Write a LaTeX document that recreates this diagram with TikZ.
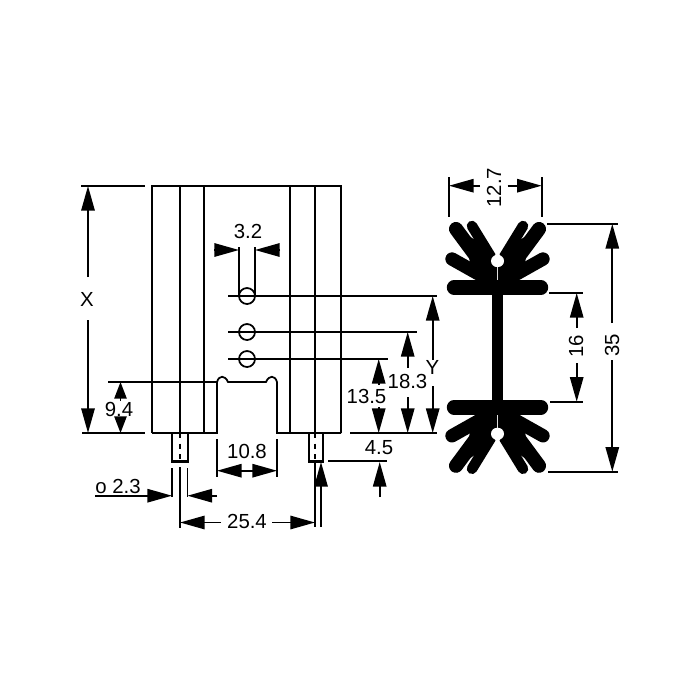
\documentclass[tikz,border=0pt]{standalone}
\usepackage{fontspec}
\setmainfont{Liberation Sans}
\usetikzlibrary{arrows.meta}

\tikzset{
  thinline/.style={line width=1pt},
  thickline/.style={line width=1.7pt},
  dimarrow/.style={line width=1pt,-{Triangle[length=14pt,width=7.6pt]}},
  shortarrow/.style={line width=1pt,-{Triangle[length=9.5pt,width=7pt]}},
  dimlabel/.style={font=\fontsize{11.6}{13}\selectfont,inner sep=0pt},
  fin/.style={line width=#1,line cap=round}
}

\newcommand{\finhalf}{
  \fill (466,234) -- (492,251) -- (497,262) -- (497,294) -- (478,294) -- (478,277) -- (470,264) -- cycle;
  \draw[fin=8pt] (456,229) -- (490,275);
  \draw[fin=6pt] (472,226) -- (491,257);
  \draw[fin=7.6pt] (452,259) -- (484,277);
  \draw[fin=8.2pt] (454,287.5) -- (497,287.5);
  \fill[white] (497,261) circle (6) ;
  \fill[white] (497,252) -- (493,259) -- (497,262) -- cycle;
}

\begin{document}
\begin{tikzpicture}[x=0.02cm,y=-0.02cm]
\useasboundingbox (0,0) rectangle (700,700);

% front view
\draw[thinline] (152,433) -- (152,186) -- (341,186) -- (341,433);
\draw[thinline] (180,186) -- (180,433);
\draw[thickline] (204,186) -- (204,433);
\draw[thinline] (290,186) -- (290,433);
\draw[thickline] (315,186) -- (315,433);
\draw[thinline] (152,433) -- (217,433) -- (217,382)
  .. controls (219,375) and (225,375) .. (228,382) -- (266,382)
  .. controls (269,375) and (275,375) .. (277,382) -- (277,433) -- (341,433);

% pins
\draw[thickline] (172,433) -- (172,461) -- (188,461) -- (188,433);
\draw[thinline,dashed] (180,433) -- (180,461);
\draw[thickline] (309,433) -- (309,461) -- (323,461) -- (323,433);
\draw[thinline,dashed] (315,433) -- (315,461);

% holes
\draw[thinline] (247,296) circle (8);
\draw[thinline] (247,332) circle (8);
\draw[thinline] (247,359) circle (8);
\draw[thinline] (239,247) -- (239,296);
\draw[thinline] (255,247) -- (255,296);

% X
\draw[thinline] (81,186) -- (145,186);
\draw[thinline] (82,433) -- (145,433);
\draw[dimarrow] (88,277) -- (88,186);
\draw[dimarrow] (88,320) -- (88,433);
\node[dimlabel] (labelx) at (87,299) {X};

% 9.4
\draw[thinline] (108,382) -- (217,382);
\draw[shortarrow] (120.5,401) -- (120.5,382);
\draw[shortarrow] (120.5,417) -- (120.5,433);
\node[dimlabel] (labelnine) at (119,409) {9.4};

% 3.2
\draw[dimarrow] (214,250) -- (239,250);
\draw[dimarrow] (280,250) -- (255,250);
\node[dimlabel] (labelslot) at (248,231) {3.2};

% 13.5, 18.3, Y
\draw[thinline] (228,359) -- (388,359);
\draw[thinline] (228,332) -- (417,332);
\draw[thinline] (228,296) -- (437,296);
\draw[thinline] (350,433) -- (437,433);
\draw[dimarrow] (378.7,385) -- (378.7,359);
\draw[dimarrow] (378.7,407) -- (378.7,433);
\node[dimlabel] (labelthirteen) at (366.5,396.5) {13.5};
\draw[dimarrow] (407.7,368) -- (407.7,332);
\draw[dimarrow] (407.7,397) -- (407.7,433);
\node[dimlabel] (labeleighteen) at (407.5,381.5) {18.3};
\draw[dimarrow] (432.7,360) -- (432.7,296);
\draw[dimarrow] (432.7,386) -- (432.7,433);
\node[dimlabel] (labely) at (432.5,367) {Y};

% 4.5
\draw[thinline] (328,461) -- (387,461);
\draw[dimarrow] (379.7,497) -- (379.7,462);
\node[dimlabel] (labelfour) at (379,448) {4.5};
\draw[dimarrow] (321,486) -- (321,462);

% 10.8
\draw[thinline] (217,439) -- (217,477);
\draw[thinline] (277,439) -- (277,477);
\draw[dimarrow] (247,470.7) -- (217,470.7);
\draw[dimarrow] (247,470.7) -- (277,470.7);
\node[dimlabel] (labelten) at (247,451) {10.8};

% o 2.3
\draw[thinline] (172,468) -- (172,497);
\draw[thinline] (187.5,468) -- (187.5,497);
\draw[dimarrow] (95,495.7) -- (172,495.7);
\draw[dimarrow] (217,495.7) -- (187.5,495.7);
\node[dimlabel,anchor=west] (labelpin) at (95,486) {o 2.3};

% 25.4
\draw[thinline] (180,467) -- (180,528);
\draw[thickline] (315,461) -- (315,527);
\draw[thinline] (320.7,466) -- (320.7,527);
\draw[dimarrow] (221,522.5) -- (180,522.5);
\draw[dimarrow] (272,522.5) -- (315,522.5);
\node[dimlabel] (labelspan) at (247,521.5) {25.4};

% profile
\fill (491.7,285) rectangle (502.5,410);
\foreach \sx/\dx in {1/0,-1/995}{
  \foreach \sy/\dy in {1/0,-1/694.8}{
    \begin{scope}[shift={(\dx,\dy)},xscale=\sx,yscale=\sy]
      \finhalf
    \end{scope}
  }
}

% 12.7
\draw[thinline] (449,177) -- (449,217);
\draw[thinline] (541.7,177) -- (541.7,217);
\draw[dimarrow] (480,185.7) -- (449,185.7);
\draw[dimarrow] (507.7,185.7) -- (541.7,185.7);
\node[dimlabel,rotate=90] (labelwidth) at (494,187.5) {12.7};

% 16
\draw[thinline] (549,293) -- (583,293);
\draw[thinline] (550,401.7) -- (583,401.7);
\draw[dimarrow] (576.7,328) -- (576.7,293);
\draw[dimarrow] (576.7,363) -- (576.7,401.7);
\node[dimlabel,rotate=90] (labelweb) at (576,346) {16};

% 35
\draw[thinline] (547,224) -- (618,224);
\draw[thinline] (548,471.7) -- (618,471.7);
\draw[dimarrow] (612.3,323) -- (612.3,224);
\draw[dimarrow] (612.3,360) -- (612.3,471.7);
\node[dimlabel,rotate=90] (labelheight) at (612,345) {35};

\end{tikzpicture}
\end{document}
